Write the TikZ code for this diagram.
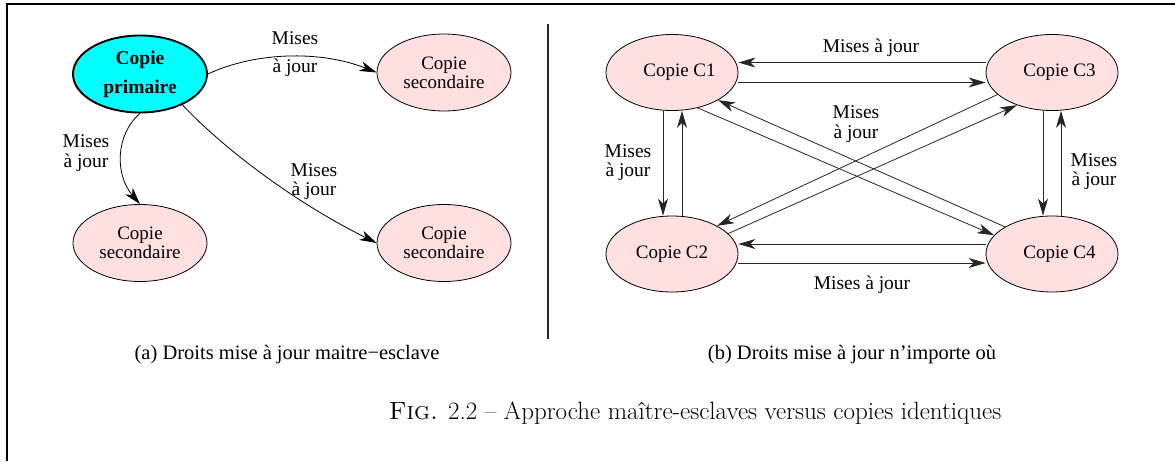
\documentclass[tikz,border=0pt]{standalone}
\usepackage{fontspec}
\newfontfamily\tms{Liberation Serif}
\usetikzlibrary{shapes.geometric,arrows.meta}
\definecolor{pinkfill}{RGB}{255,224,224}
\definecolor{cyanfill}{RGB}{0,255,255}
\begin{document}
\begin{tikzpicture}[x=1pt,y=-1pt,
  every node/.style={font=\tms\fontsize{19}{19}\selectfont},
  ell/.style={ellipse, draw, line width=0.8pt, fill=pinkfill, minimum width=134pt, minimum height=77pt, inner sep=0pt, align=center},
  prim/.style={ell, fill=cyanfill, line width=1.9pt, font=\tms\bfseries\fontsize{19.5}{29}\selectfont},
  arr/.style={-{Stealth[length=17pt,width=10pt,inset=5pt]}, line width=0.8pt},
  rarr/.style={arr, draw=black!85},
  lbl/.style={align=center, inner sep=0pt, font=\tms\fontsize{19.5}{19.5}\selectfont},
  sub/.style={font=\tms\fontsize{20.5}{22}\selectfont},
  frame/.style={line width=2.5pt}
]
\useasboundingbox (0,0) rectangle (1175,461);
% frame
\draw[frame] (7,461) -- (7,4) -- (1175,4);
\draw[line width=1.8pt, black!85] (548,24) -- (548,339);

% left panel
\node[prim] (P) at (140,74) {Copie\\primaire};
\node[ell] (S1) at (444,72.5) {Copie\\secondaire};
\node[ell] (S0) at (140,243) {Copie\\secondaire};
\node[ell] (S2) at (444,243) {Copie\\secondaire};

\draw[arr] (P.east) .. controls (255,52) and (320,50) .. (S1.west);
\draw[arr] (P.south) .. controls (115,135) and (115,175) .. (S0.north);
\draw[arr] (P.-36) .. controls (220,145) and (290,200) .. (S2.west);

\node[lbl] (l1a) at (295,38) {Mises};
\node[lbl] (l1b) at (295,68) {à jour};
\node[lbl] (l2) at (86,153) {Mises\\à jour};
\node[lbl] (l3) at (314,181.5) {Mises\\à jour};

% right panel
\node[ell, minimum width=132pt, minimum height=76pt] (C1) at (672,72.5) {\hspace*{15pt}Copie C1};
\node[ell, minimum width=132pt, minimum height=76pt] (C3) at (1052,72.5) {\hspace*{15pt}Copie C3};
\node[ell, minimum width=132pt, minimum height=76pt] (C2) at (672,254) {Copie C2};
\node[ell, minimum width=132pt, minimum height=76pt] (C4) at (1052,254) {\hspace*{15pt}Copie C4};

\draw[rarr] ([yshift=10pt]C3.west) -- ([yshift=10pt]C1.east);
\draw[rarr] ([yshift=-10pt]C1.east) -- ([yshift=-10pt]C3.west);
\draw[rarr] ([yshift=10pt]C4.west) -- ([yshift=10pt]C2.east);
\draw[rarr] ([yshift=-9pt]C2.east) -- ([yshift=-9pt]C4.west);
\draw[rarr] ([xshift=-9pt]C1.south) -- ([xshift=-9pt]C2.north);
\draw[rarr] ([xshift=10pt]C2.north) -- ([xshift=10pt]C1.south);
\draw[rarr] ([xshift=-9pt]C3.south) -- ([xshift=-9pt]C4.north);
\draw[rarr] ([xshift=9pt]C4.north) -- ([xshift=9pt]C3.south);
\draw[rarr] (C1.-54) -- (C4.162);
\draw[rarr] (C4.150) -- (C1.-31);
\draw[rarr] (C3.202) -- (C2.32);
\draw[rarr] (C2.20) -- (C3.223);

\node[lbl] (r1) at (871,48) {Mises à jour};
\node[lbl] (r2) at (862,285) {Mises à jour};
\node[lbl] (r3) at (628,162.5) {Mises\\à jour};
\node[lbl] (r4) at (1094,171.5) {Mises\\à jour};
\node[lbl] (r5) at (856,124) {Mises\\à jour};

% captions
\node[sub] (capa) at (287,355) {(a) Droits mise à jour maitre−esclave};
\node[sub] (capb) at (852,355) {(b) Droits mise à jour n’importe où};
\node[font=\fontsize{25}{28}\selectfont] (cap) at (695,413) {\textsc{Fig.} 2.2 – Approche maître-esclaves versus copies identiques};
\end{tikzpicture}
\end{document}
